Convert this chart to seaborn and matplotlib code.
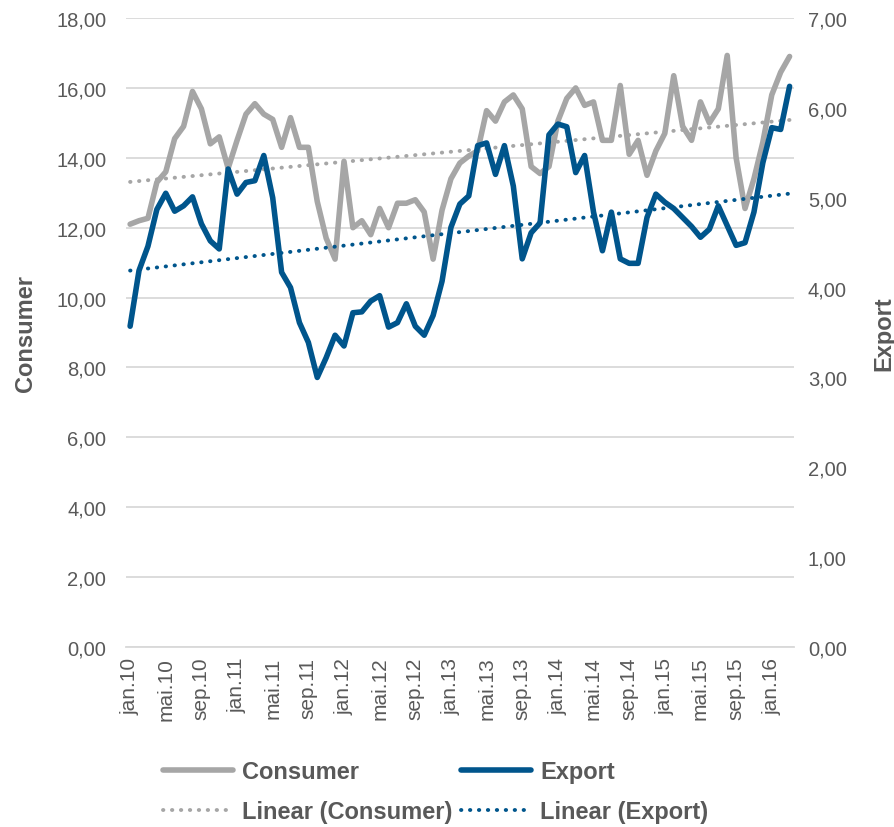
import numpy as np
import pandas as pd
import seaborn as sns
import matplotlib.pyplot as plt
from matplotlib.lines import Line2D
from matplotlib.ticker import FuncFormatter

# Monthly values, jan.10 - mar.16
consumer = [12.1, 12.2, 12.27, 13.3, 13.6, 14.55, 14.9, 15.9, 15.4, 14.4,
            14.6, 13.7, 14.5, 15.25, 15.55, 15.25, 15.1, 14.3, 15.15, 14.3,
            14.3, 12.75, 11.7, 11.1, 13.9, 12.0, 12.2, 11.8, 12.55, 12.0,
            12.7, 12.7, 12.8, 12.45, 11.1, 12.5, 13.4, 13.85, 14.05, 14.2,
            15.35, 15.05, 15.6, 15.8, 15.4, 13.75, 13.55, 13.75, 15.05, 15.7,
            16.0, 15.5, 15.6, 14.5, 14.5, 16.07, 14.1, 14.5, 13.5, 14.2,
            14.7, 16.35, 14.9, 14.5, 15.6, 15.0, 15.4, 16.93, 14.0, 12.55,
            13.4, 14.45, 15.8, 16.45, 16.9]
export = [3.57, 4.19, 4.46, 4.87, 5.05, 4.85, 4.91, 5.01, 4.71, 4.52,
          4.43, 5.32, 5.04, 5.17, 5.19, 5.47, 5.0, 4.17, 4.0, 3.61,
          3.39, 3.0, 3.22, 3.47, 3.35, 3.72, 3.73, 3.85, 3.91, 3.56,
          3.61, 3.82, 3.57, 3.47, 3.69, 4.07, 4.67, 4.93, 5.02, 5.58,
          5.61, 5.26, 5.58, 5.13, 4.32, 4.61, 4.72, 5.7, 5.82, 5.79,
          5.28, 5.47, 4.84, 4.41, 4.84, 4.32, 4.27, 4.27, 4.78, 5.04,
          4.95, 4.88, 4.78, 4.68, 4.56, 4.65, 4.91, 4.69, 4.47, 4.5,
          4.84, 5.39, 5.78, 5.76, 6.24]
tick_labels = ["jan.10", "mai.10", "sep.10", "jan.11", "mai.11", "sep.11",
               "jan.12", "mai.12", "sep.12", "jan.13", "mai.13", "sep.13",
               "jan.14", "mai.14", "sep.14", "jan.15", "mai.15", "sep.15",
               "jan.16"]

df = pd.DataFrame({"idx": np.arange(len(consumer)), "Consumer": consumer, "Export": export})

GRAY = "#A6A6A6"
BLUE = "#00558C"
TXT = "#595959"

sns.set_style("white")
plt.rcParams["font.family"] = ["Liberation Sans", "DejaVu Sans"]

fig = plt.figure(figsize=(8.95, 8.28), dpi=100)
ax = fig.add_axes([0.1404, 0.2174, 0.8872 - 0.1404, 0.977 - 0.2174])
ax2 = ax.twinx()

dot = dict(linestyle=(0, (0.1, 2.2)), dash_capstyle="round", lw=2.8)

sns.lineplot(data=df, x="idx", y="Consumer", ax=ax, color=GRAY, lw=4, solid_capstyle="round", solid_joinstyle="round")
sns.regplot(data=df, x="idx", y="Consumer", ax=ax, scatter=False, ci=None, color=GRAY, line_kws=dot)
sns.lineplot(data=df, x="idx", y="Export", ax=ax2, color=BLUE, lw=4, solid_capstyle="round", solid_joinstyle="round")
sns.regplot(data=df, x="idx", y="Export", ax=ax2, scatter=False, ci=None, color=BLUE, line_kws=dot)

ax.set_xlim(-0.5, len(consumer) - 0.5)
ax.set_ylim(0, 18)
ax2.set_ylim(0, 7)
ax.set_yticks(np.arange(0, 19, 2))
ax2.set_yticks(np.arange(0, 8, 1))
fmt = FuncFormatter(lambda v, p: f"{v:.2f}".replace(".", ","))
ax.yaxis.set_major_formatter(fmt)
ax2.yaxis.set_major_formatter(fmt)
ax.grid(axis="y", color="#D9D9D9", lw=1.3)
ax.set_axisbelow(True)

ax.set_xticks(np.arange(0, len(consumer), 4))
ax.set_xticklabels(tick_labels, rotation=90)
ax.set_xticks(np.arange(-0.5, len(consumer), 4), minor=True)
ax.tick_params(axis="x", which="major", length=0, pad=7, labelsize=15, labelcolor=TXT)
ax.tick_params(axis="x", which="minor", length=6, color="#D9D9D9", width=1.3, direction="out")
ax.tick_params(axis="y", length=0, pad=14, labelsize=14.5, labelcolor=TXT)
ax2.tick_params(axis="y", length=0, pad=10, labelsize=14.5, labelcolor=TXT)

for a in (ax, ax2):
    for s in ("top", "left", "right"):
        a.spines[s].set_visible(False)
    a.spines["bottom"].set_color("#D9D9D9")
    a.spines["bottom"].set_linewidth(1.3)
ax2.spines["bottom"].set_visible(False)

ax.set_xlabel("")
ax.set_ylabel("Consumer", fontsize=17, fontweight="bold", color=TXT, labelpad=14)
ax2.set_ylabel("Export", fontsize=17, fontweight="bold", color=TXT, rotation=90, labelpad=18)

handles = [
    Line2D([], [], color=GRAY, lw=4, solid_capstyle="round"),
    Line2D([], [], color=GRAY, **dot),
    Line2D([], [], color=BLUE, lw=4, solid_capstyle="round"),
    Line2D([], [], color=BLUE, **dot),
]
labels = ["Consumer", "Linear (Consumer)", "Export", "Linear (Export)"]
leg = fig.legend(handles, labels, ncol=2, loc="center", bbox_to_anchor=(0.487, 0.043),
                 frameon=False, handlelength=2.95, handletextpad=0.4, columnspacing=0.35,
                 labelspacing=0.72, prop={"weight": "bold", "size": 17})
for t in leg.get_texts():
    t.set_color(TXT)

fig.savefig("out.png", dpi=100)
